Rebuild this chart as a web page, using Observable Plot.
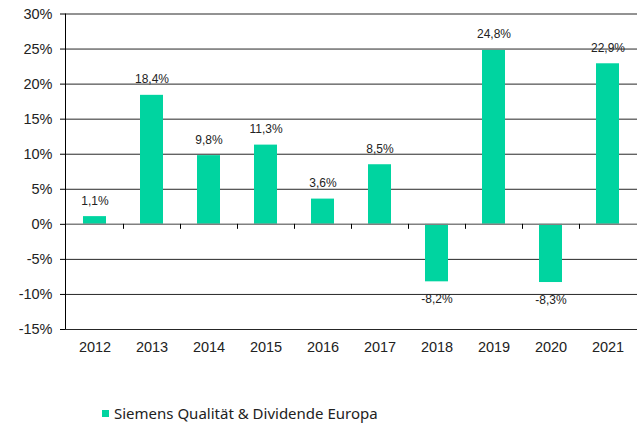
<!DOCTYPE html>
<html><head><meta charset="utf-8">
<script src="https://cdn.jsdelivr.net/npm/d3@7"></script>
<script src="https://cdn.jsdelivr.net/npm/@observablehq/plot@0.6"></script>
<style>
body{margin:0;background:#fff;}
#legend{position:absolute;left:102px;top:403px;font-family:"Noto Sans",sans-serif;font-size:15px;color:#222;display:flex;align-items:center;}
#legend span.sw{display:inline-block;width:7px;height:7px;background:#00D4A0;margin-right:5px;}
svg text{font-family:"Liberation Sans",Arial,sans-serif;}
</style></head>
<body>
<div id="chart"></div>
<div id="legend"><span class="sw"></span><span>Siemens Qualität &amp; Dividende Europa</span></div>
<script>
const years = ["2012","2013","2014","2015","2016","2017","2018","2019","2020","2021"];
const values = [1.1, 18.4, 9.8, 11.3, 3.6, 8.5, -8.2, 24.8, -8.3, 22.9];
const yTicks = [-15,-10,-5,0,5,10,15,20,25,30];
const seriesName = "Siemens Qualität & Dividende Europa";

const data = years.map((y,i)=>({year:y, value:values[i]}));
const fmt = v => v.toFixed(1).replace(".", ",") + "%";
const FONT = "Liberation Sans";

const chart = Plot.plot({
  width: 639,
  height: 395,
  marginTop: 13.5,
  marginBottom: 66,
  marginLeft: 65,
  marginRight: 2,
  style: {fontFamily: "'Liberation Sans', Arial, sans-serif", color: "#222", background: "#fff"},
  x: {domain: years, paddingInner: 0.6, paddingOuter: 0.3, label: null},
  y: {domain: [-15, 30], ticks: yTicks, label: null},
  marks: [
    Plot.ruleY(yTicks.filter(t => t !== 0), {stroke: "#000", strokeWidth: 1, strokeOpacity: 0.85}),
    Plot.barY(data, {x: "year", y: "value", fill: "#00D4A0"}),
    Plot.ruleY([0], {stroke: "#808080", strokeWidth: 1.5}),
    Plot.axisY({ticks: yTicks, tickFormat: d => d + "%", tickSize: 5, tickPadding: 8, fontSize: 14.5, fontFamily: FONT, stroke: "#000"}),
    Plot.axisX({tickSize: 0, tickPadding: 12, fontSize: 14.5, fontFamily: FONT}),
    Plot.text(data.filter(d => d.value >= 0), {x: "year", y: "value", text: d => fmt(d.value), lineAnchor: "bottom", dy: -12, fontSize: 12, fontFamily: FONT, fill: "#222"}),
    Plot.text(data.filter(d => d.value < 0), {x: "year", y: "value", text: d => fmt(d.value), lineAnchor: "top", dy: 13, fontSize: 12, fontFamily: FONT, fill: "#222"})
  ]
});
document.getElementById("chart").appendChild(chart);

// left axis line and category boundary ticks positioned via the chart's scales
const xs = chart.scale("x"), ys = chart.scale("y");
const svg = d3.select(chart);
svg.append("line").attr("x1", 65.5).attr("x2", 65.5).attr("y1", ys.apply(30)).attr("y2", ys.apply(-15)).attr("stroke", "#000");
years.slice(1).forEach(y => {
  const bx = Math.round(xs.apply(y) - xs.step * 0.3) + 0.5;
  svg.append("line").attr("x1", bx).attr("x2", bx).attr("y1", ys.apply(0)).attr("y2", ys.apply(0) + 5).attr("stroke", "#000");
});
</script>
</body></html>
